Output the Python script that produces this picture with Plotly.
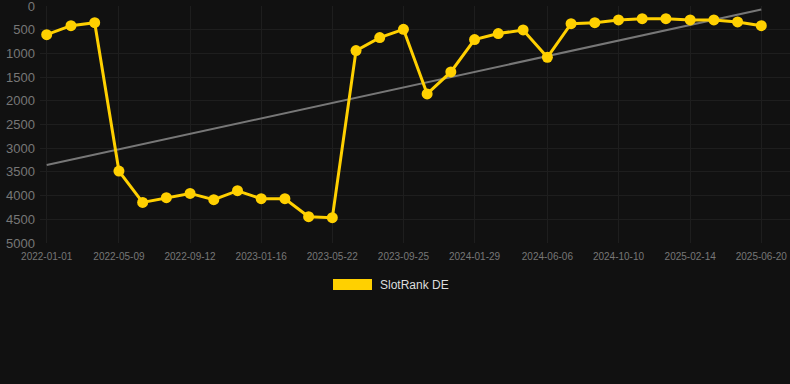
import numpy as np
import pandas as pd
import plotly.graph_objects as go

dates = [
    "2022-01-01", "2022-02-13", "2022-03-27", "2022-05-09", "2022-06-20", "2022-08-01",
    "2022-09-12", "2022-10-24", "2022-12-05", "2023-01-16", "2023-02-27", "2023-04-10",
    "2023-05-22", "2023-07-03", "2023-08-14", "2023-09-25", "2023-11-06", "2023-12-18",
    "2024-01-29", "2024-03-11", "2024-04-24", "2024-06-06", "2024-07-18", "2024-08-29",
    "2024-10-10", "2024-11-21", "2025-01-02", "2025-02-14", "2025-03-28", "2025-05-09",
    "2025-06-20",
]
ranks = [
    605, 415, 352, 3483, 4144, 4045, 3954, 4087, 3897, 4066, 4066, 4445, 4466, 941, 667,
    492, 1854, 1390, 709, 582, 506, 1081, 372, 351, 295, 267, 267, 295, 295, 337, 415,
]
tick_dates = dates[::3]
series_name = "SlotRank DE"

x = pd.to_datetime(dates)
days = (x - x[0]).days.values.astype(float)
coef = np.polyfit(days, np.array(ranks, dtype=float), 1)
trend_x = [x[0], x[-1]]
trend_y = [float(np.polyval(coef, days[0])), float(np.polyval(coef, days[-1]))]

GOLD = "#FFD000"
BG = "#111111"
GRID = "#1e1e1e"
TICK = "#777777"

fig = go.Figure()
fig.add_trace(go.Scatter(
    x=trend_x, y=trend_y, mode="lines",
    line=dict(color="#777777", width=2), hoverinfo="skip", showlegend=False,
))
fig.add_trace(go.Scatter(
    x=x, y=ranks, mode="lines+markers", name=series_name,
    line=dict(color=GOLD, width=3),
    marker=dict(color=GOLD, size=11),
    showlegend=False,
))

span = (x[-1] - x[0]).days
px_per_day = 714.6 / span
x0 = x[0] - pd.Timedelta(days=6.7 / px_per_day)
x1 = x[-1] + pd.Timedelta(days=28.7 / px_per_day)

fig.update_layout(
    width=790, height=384,
    paper_bgcolor=BG, plot_bgcolor=BG,
    margin=dict(l=40, r=0, t=6, b=141),
    font=dict(family="Liberation Sans, Arial, sans-serif", color=TICK),
    xaxis=dict(
        type="date", range=[x0, x1],
        tickvals=pd.to_datetime(tick_dates), ticktext=tick_dates,
        tickfont=dict(size=10, color=TICK),
        showgrid=True, gridcolor=GRID, gridwidth=1,
        zeroline=False, showline=False, ticks="", ticklabelstandoff=6,
        ticklabeloverflow="allow",
    ),
    yaxis=dict(
        range=[5000, 0], tickvals=list(range(0, 5001, 500)),
        tickfont=dict(size=13, color=TICK),
        showgrid=True, gridcolor=GRID, gridwidth=1,
        zeroline=False, showline=False, ticks="", ticklabelstandoff=4,
        ticklabeloverflow="allow",
    ),
    shapes=[dict(
        type="rect", xref="paper", yref="paper",
        x0=(333 - 40) / 750, x1=(372 - 40) / 750,
        y0=(384 - 141 - 290) / 237, y1=(384 - 141 - 279) / 237,
        fillcolor=GOLD, line=dict(width=0),
    )],
    annotations=[dict(
        text=series_name, xref="paper", yref="paper",
        x=(378 - 40) / 750, y=(384 - 141 - 284.5) / 237,
        xanchor="left", yanchor="middle", showarrow=False,
        font=dict(size=12, color="#dddddd"),
    )],
)

fig.write_html(
    "out.html",
    config={"displayModeBar": False},
    post_script="document.body.style.margin='0';document.body.style.background='#111111';",
)
